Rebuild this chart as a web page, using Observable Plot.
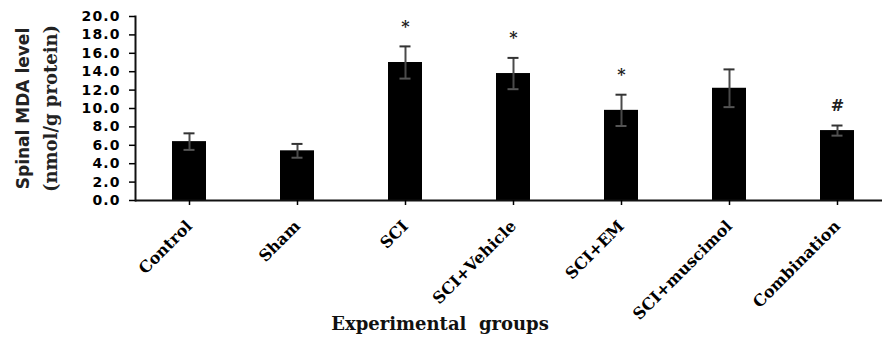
<!DOCTYPE html>
<html>
<head>
<meta charset="utf-8">
<script src="https://cdn.jsdelivr.net/npm/d3@7"></script>
<script src="https://cdn.jsdelivr.net/npm/@observablehq/plot@0.6"></script>
<style>
  html, body { margin: 0; padding: 0; background: #fff; }
  #chart svg { display: block; }
</style>
</head>
<body>
<div id="chart"></div>
<script>
// Data
const groups = ["Control", "Sham", "SCI", "SCI+Vehicle", "SCI+EM", "SCI+muscimol", "Combination"];
const means  = [6.4, 5.4, 15.0, 13.8, 9.8, 12.2, 7.6];
const errors = [0.9, 0.75, 1.75, 1.7, 1.7, 2.05, 0.55];
const signif = ["", "", "*", "*", "*", "", "#"];
const yTicks = [0, 2, 4, 6, 8, 10, 12, 14, 16, 18, 20];
const yLabelLine1 = "Spinal MDA level";
const yLabelLine2 = "(nmol/g protein)";
const xTitle = "Experimental\u00a0\u00a0groups";

const data = groups.map((g, i) => ({group: g, mean: means[i], err: errors[i], mark: signif[i]}));
const annotated = data.filter(d => d.mark !== "");

const chart = Plot.plot({
  width: 882,
  height: 342,
  marginLeft: 135,
  marginRight: 0,
  marginTop: 16,
  marginBottom: 142,
  style: {background: "white", color: "black", overflow: "visible"},
  x: {domain: groups, range: [135, 891], paddingInner: 0.685, paddingOuter: 0.3425, label: null},
  y: {domain: [0, 20], label: null},
  marks: [
    Plot.barY(data, {x: "group", y: "mean", fill: "black"}),
    Plot.ruleX(data, {x: "group", y1: d => d.mean - d.err, y2: d => d.mean + d.err, stroke: "#4a4a4a", strokeWidth: 2}),
    Plot.tickY(data, {x: "group", y: d => d.mean + d.err, stroke: "#333", strokeWidth: 2, insetLeft: 11.5, insetRight: 11.5}),
    Plot.tickY(data, {x: "group", y: d => d.mean - d.err, stroke: "#555", strokeWidth: 2, insetLeft: 11.5, insetRight: 11.5}),
    Plot.text(annotated, {x: "group", y: d => d.mean + d.err, text: "mark", dy: -20, fontSize: 16, fontWeight: "bold", fontFamily: "DejaVu Serif", fill: "#222"}),
    Plot.ruleY([0], {stroke: "#111", strokeWidth: 2}),
    Plot.frame({anchor: "left", stroke: "#111", strokeWidth: 2}),
    Plot.axisY({ticks: yTicks, tickFormat: d => d.toFixed(1), tickSize: 6, tickPadding: 9, fontSize: 14, fontWeight: "bold", fontFamily: "DejaVu Sans", strokeWidth: 1.5, label: null, className: "yticks"}),
    Plot.axisX({tickRotate: -45, tickSize: 5, tickPadding: 18, fontSize: 16, fontWeight: "bold", fontFamily: "DejaVu Serif", strokeWidth: 1.5, label: null}),
    Plot.text([yLabelLine1], {frameAnchor: "left", textAnchor: "middle", text: d => d, rotate: -90, dx: -112, fontSize: 17, fontWeight: "bold", fontFamily: "DejaVu Sans", fill: "#222"}),
    Plot.text([yLabelLine2], {frameAnchor: "left", textAnchor: "middle", text: d => d, rotate: -90, dx: -84, fontSize: 18, fontWeight: "bold", fontFamily: "DejaVu Serif", fill: "#222"}),
    Plot.text([xTitle], {frameAnchor: "bottom", text: d => d, dx: -69, dy: 129, fontSize: 18, fontWeight: "bold", fontFamily: "DejaVu Serif", fill: "#111"})
  ]
});

d3.select(chart).selectAll(".yticks text").attr("letter-spacing", "1.1px");
document.getElementById("chart").appendChild(chart);
</script>
</body>
</html>
